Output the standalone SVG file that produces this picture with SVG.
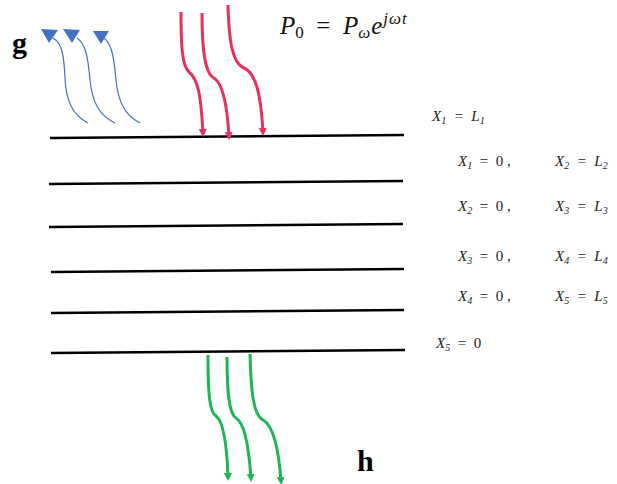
<svg xmlns="http://www.w3.org/2000/svg" width="617" height="484" viewBox="0 0 617 484">
<style>
.layer{stroke:#000;stroke-width:2.5;fill:none}
.red{stroke:#e8305a;stroke-width:3;fill:none}
.green{stroke:#1fb456;stroke-width:3;fill:none}
.blue{stroke:#4472c4;stroke-width:1.2;fill:none}
.tri{fill:#4472c4}
.lbl{font-family:"Liberation Serif",serif;font-style:italic;font-size:15px;fill:#222}
.sub{font-size:10px}
.big{font-family:"Liberation Serif",serif;font-weight:bold;font-size:30px;fill:#000}
.eq{font-family:"Liberation Serif",serif;font-style:italic;font-size:25px;fill:#111}
</style>
<defs>
<marker id="ar" markerWidth="8" markerHeight="8" refX="5" refY="4" orient="auto" markerUnits="userSpaceOnUse" viewBox="0 0 8 8"><path d="M0,0 L8,4 L0,8 Z" fill="#e8305a"/></marker>
<marker id="ag" markerWidth="8" markerHeight="8" refX="5" refY="4" orient="auto" markerUnits="userSpaceOnUse" viewBox="0 0 8 8"><path d="M0,0 L8,4 L0,8 Z" fill="#1fb456"/></marker>
</defs>
<rect width="617" height="484" fill="#fff"/>
<g id="layers">
<line class="layer" x1="50" y1="138" x2="404" y2="135"/>
<line class="layer" x1="49" y1="184" x2="403" y2="181"/>
<line class="layer" x1="49" y1="227" x2="403" y2="224"/>
<line class="layer" x1="51" y1="272" x2="404" y2="269"/>
<line class="layer" x1="51" y1="313" x2="404" y2="310"/>
<line class="layer" x1="51" y1="353" x2="405" y2="350"/>
</g>
<g id="connectors">
<path class="red" marker-end="url(#ar)" d="M181,12 C181,45 182,66 189,72 C198,79 201,95 203,134"/>
<path class="red" marker-end="url(#ar)" d="M202,13 C202,50 205,74 214,78 C222,83 227,100 229,137"/>
<path class="red" marker-end="url(#ar)" d="M228,5 C229,40 232,63 244,68 C256,73 261,95 263,133"/>
<path class="green" marker-end="url(#ag)" d="M208,355 C208,390 209,412 216,416 C224,422 227,445 228,478"/>
<path class="green" marker-end="url(#ag)" d="M227,357 C227,392 229,414 236,418 C245,423 249,448 251,479"/>
<path class="green" marker-end="url(#ag)" d="M250,354 C251,390 253,415 263,420 C274,426 279,452 281,482"/>
<path class="blue" d="M88,123 C72,115 66,100 65,78 C64,55 62,43 53,38"/>
<path class="blue" d="M115,123 C98,115 92,100 90,80 C88,58 86,44 77,38"/>
<path class="blue" d="M140,123 C124,115 118,100 116,80 C114,58 112,44 104,38"/>
<polygon class="tri" points="41,29 58,30 49,43"/>
<polygon class="tri" points="63,29 80,30 72,43"/>
<polygon class="tri" points="93,31 109,31 101,44"/>
</g>
<g id="labels">
<text class="big" x="12" y="53">g</text>
<text class="big" x="357" y="471">h</text>
<text class="eq" x="280" y="34">P<tspan font-size="17" dy="4" font-style="normal">0</tspan><tspan dy="-4" font-style="normal" xml:space="preserve">  =  </tspan>P<tspan font-size="17" dy="4">ω</tspan><tspan dy="-4" dx="1">e</tspan><tspan font-size="17" dy="-10" dx="1" letter-spacing="1">jωt</tspan></text>
<text class="lbl" x="432" y="121">X<tspan class="sub" dy="3">1</tspan><tspan dy="-3" xml:space="preserve">  =  L</tspan><tspan class="sub" dy="3">1</tspan></text>
<text class="lbl" x="458" y="166">X<tspan class="sub" dy="3">1</tspan><tspan dy="-3" font-style="normal" xml:space="preserve">  =  0 ,</tspan></text>
<text class="lbl" x="555" y="166">X<tspan class="sub" dy="3">2</tspan><tspan dy="-3" xml:space="preserve">  =  L</tspan><tspan class="sub" dy="3">2</tspan></text>
<text class="lbl" x="458" y="211">X<tspan class="sub" dy="3">2</tspan><tspan dy="-3" font-style="normal" xml:space="preserve">  =  0 ,</tspan></text>
<text class="lbl" x="555" y="211">X<tspan class="sub" dy="3">3</tspan><tspan dy="-3" xml:space="preserve">  =  L</tspan><tspan class="sub" dy="3">3</tspan></text>
<text class="lbl" x="458" y="261">X<tspan class="sub" dy="3">3</tspan><tspan dy="-3" font-style="normal" xml:space="preserve">  =  0 ,</tspan></text>
<text class="lbl" x="555" y="261">X<tspan class="sub" dy="3">4</tspan><tspan dy="-3" xml:space="preserve">  =  L</tspan><tspan class="sub" dy="3">4</tspan></text>
<text class="lbl" x="458" y="301">X<tspan class="sub" dy="3">4</tspan><tspan dy="-3" font-style="normal" xml:space="preserve">  =  0 ,</tspan></text>
<text class="lbl" x="555" y="301">X<tspan class="sub" dy="3">5</tspan><tspan dy="-3" xml:space="preserve">  =  L</tspan><tspan class="sub" dy="3">5</tspan></text>
<text class="lbl" x="436" y="348">X<tspan class="sub" dy="3">5</tspan><tspan dy="-3" font-style="normal" xml:space="preserve">  =  0</tspan></text>
</g>
</svg>
